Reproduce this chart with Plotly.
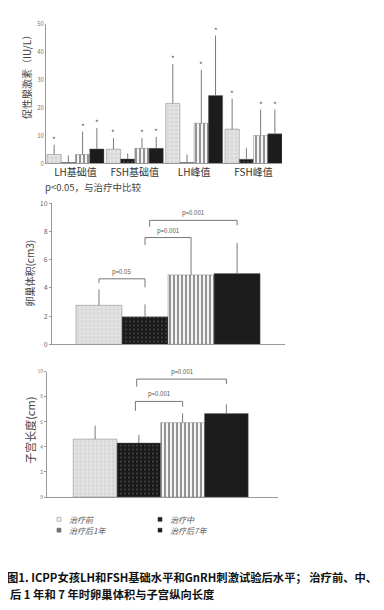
import plotly.graph_objects as go

# ---------------- data ----------------
groups = ["治疗前", "治疗中", "治疗后1年", "治疗后7年"]
hormone_categories = ["LH基础值", "FSH基础值", "LH峰值", "FSH峰值"]

# panel 1: gonadotropins (IU/L), mean and SD per treatment stage
hormone_pre = [3.2, 5.1, 21.5, 12.3]
hormone_pre_sd = [3.5, 4.0, 14.1, 10.9]
hormone_mid = [0.3, 1.6, 0.3, 1.5]
hormone_mid_sd = [2.6, 2.0, 2.9, 4.1]
hormone_y1 = [3.2, 5.4, 14.4, 10.0]
hormone_y1_sd = [8.2, 3.7, 19.1, 9.3]
hormone_y7 = [5.2, 5.4, 24.3, 10.6]
hormone_y7_sd = [7.5, 4.1, 21.5, 8.7]
star_pre = ["*", "*", "*", "*"]
star_mid = ["", "", "", ""]
star_y1 = ["*", "*", "*", "*"]
star_y7 = ["*", "*", "*", "*"]

# panel 2: ovarian volume (cm3)
ovary_mean = [2.77, 1.95, 4.93, 5.02]
ovary_sd = [1.13, 0.89, 2.37, 2.18]
ovary_brackets = [  # (left, right, top, left end, right end, label)
    (0.0, 1.0, 4.65, 4.35, 4.05, "p=0.05"),
    (1.0, 2.0, 7.58, 7.05, 7.30, "p=0.001"),
    (1.1, 3.0, 8.80, 8.35, 8.45, "p=0.001"),
]

# panel 3: uterine length (cm)
uterus_mean = [4.62, 4.31, 5.93, 6.66]
uterus_sd = [1.07, 0.65, 0.73, 0.73]
uterus_brackets = [
    (0.92, 2.0, 7.62, 6.87, 7.20, "p=0.001"),
    (0.95, 3.0, 9.40, 8.80, 9.00, "p=0.001"),
]

note_text = "p<0.05，与治疗中比较"
caption_1 = "图1. ICPP女孩LH和FSH基础水平和GnRH刺激试验后水平； 治疗前、中、"
caption_2 = "后 1 年和 7 年时卵巢体积与子宫纵向长度"

# ---------------- layout helpers ----------------
# the page body has an 8px margin, so the figure is sized to fit the window exactly
PAGE_M = 8
W, H = 384 - 2 * PAGE_M, 610 - 2 * PAGE_M
FONT = "Noto Sans CJK SC"


def px_x(p):
    return (p - PAGE_M) / W


def px_y(p):
    return 1 - (p - PAGE_M) / H


styles = [
    dict(color="#dcdcdc", pattern=dict(shape="+", fgcolor="#a0a0a0", bgcolor="#e6e6e6", size=4, solidity=0.25, fillmode="overlay")),
    dict(color="#1a1a1a", pattern=dict(shape=".", fgcolor="#b8b8b8", bgcolor="#1a1a1a", size=4, solidity=0.12, fillmode="overlay")),
    dict(color="#ffffff", pattern=dict(shape="|", fgcolor="#2a2a2a", bgcolor="#ffffff", size=4, solidity=0.55, fillmode="overlay")),
    dict(color="#1c1c1c"),
]

fig = go.Figure()

# ---------- panel 1 ----------
series = [
    (hormone_pre, hormone_pre_sd, star_pre),
    (hormone_mid, hormone_mid_sd, star_mid),
    (hormone_y1, hormone_y1_sd, star_y1),
    (hormone_y7, hormone_y7_sd, star_y7),
]
bargap1 = 0.04
nser = len(series)
bw = (1 - bargap1) / nser
for i, (vals, sds, stars) in enumerate(series):
    fig.add_trace(go.Bar(
        x=hormone_categories, y=vals, name=groups[i], xaxis="x", yaxis="y",
        marker=dict(**styles[i], line=dict(color="#666", width=0.4)),
        error_y=dict(type="data", symmetric=False, array=sds, arrayminus=[0] * len(sds),
                     width=0, thickness=1, color="#7a7a7a"),
        showlegend=False,
    ))
    off = -(1 - bargap1) / 2 + bw * (i + 0.5)
    for j, s in enumerate(stars):
        if s:
            fig.add_annotation(x=j + off, y=vals[j] + sds[j], xref="x", yref="y", text=s,
                               showarrow=False, xanchor="center", yanchor="bottom", yshift=-2,
                               font=dict(size=8, color="#555", family=FONT))


# ---------- panels 2 and 3 ----------
def single_panel(means, sds, xa, ya, brackets):
    for i, g in enumerate(groups):
        fig.add_trace(go.Bar(
            x=[g], y=[means[i]], name=g, xaxis=xa, yaxis=ya, width=1,
            marker=dict(**styles[i], line=dict(color="#666", width=0.4)),
            error_y=dict(type="data", symmetric=False, array=[sds[i]], arrayminus=[0],
                         width=0, thickness=1, color="#7a7a7a"),
            showlegend=False,
        ))
    for (a, b, top, ea, eb, lab) in brackets:
        fig.add_shape(type="path", xref=xa, yref=ya,
                      path=f"M {a},{ea} L {a},{top} L {b},{top} L {b},{eb}",
                      line=dict(color="#777", width=1))
        fig.add_annotation(x=(a + b) / 2, y=top, xref=xa, yref=ya, text=lab, showarrow=False,
                           xanchor="center", yanchor="bottom", yshift=1,
                           font=dict(size=6, color="#555", family=FONT))


single_panel(ovary_mean, ovary_sd, "x2", "y2", ovary_brackets)
single_panel(uterus_mean, uterus_sd, "x3", "y3", uterus_brackets)

axis_common = dict(showline=True, linecolor="#999", linewidth=1, showgrid=False, zeroline=False)

fig.update_layout(
    width=W, height=H, margin=dict(l=0, r=0, t=0, b=0),
    paper_bgcolor="white", plot_bgcolor="white",
    barmode="group", bargap=bargap1, bargroupgap=0,
    font=dict(family=FONT, color="#444"),
    xaxis=dict(domain=[px_x(46), px_x(282)], range=[-0.497, 3.48], anchor="y",
               tickfont=dict(size=10, color="#333"), ticks="", **axis_common),
    yaxis=dict(domain=[px_y(160), px_y(18)], range=[0, 50], anchor="x", dtick=10,
               tickfont=dict(size=6, color="#777"), ticks="", **axis_common),
    xaxis2=dict(domain=[px_x(52), px_x(285)], range=[-1.02, 4.04], anchor="y2",
                showticklabels=False, ticks="", **axis_common),
    yaxis2=dict(domain=[px_y(344), px_y(200.7)], range=[0, 10], anchor="x2", dtick=2,
                tickfont=dict(size=7, color="#666"), ticks="outside", ticklen=2, tickcolor="#999", **axis_common),
    xaxis3=dict(domain=[px_x(47), px_x(278)], range=[-1.1, 4.18], anchor="y3",
                showticklabels=False, ticks="", **axis_common),
    yaxis3=dict(domain=[px_y(499.3), px_y(371.7)], range=[0, 10], anchor="x3", dtick=2,
                tickfont=dict(size=5, color="#777"), ticks="outside", ticklen=2, tickcolor="#999", **axis_common),
)

# y-axis titles
for text, x, y, size in [("促性腺激素（IU/L）", 27, 70, 10), ("卵巢体积(cm3)", 30, 272, 10), ("子宫长度(cm)", 30, 432, 11)]:
    fig.add_annotation(x=px_x(x), y=px_y(y), xref="paper", yref="paper", text=text, textangle=-90,
                       showarrow=False, xanchor="center", yanchor="middle",
                       font=dict(size=size, color="#444", family=FONT))

# note under panel 1
fig.add_annotation(x=px_x(43), y=px_y(184), xref="paper", yref="paper", text=note_text, showarrow=False,
                   xanchor="left", yanchor="middle", font=dict(size=9.5, color="#444", family=FONT))

# legend (manual)
legend_pos = [(57, 522), (158, 522), (57, 533), (158, 533)]
legend_sym = [dict(fillcolor="#f2f2f2", line=dict(color="#aaa", width=0.8)),
              dict(fillcolor="#222", line=dict(color="#222", width=0.5)),
              dict(fillcolor="#777", line=dict(color="#555", width=0.5)),
              dict(fillcolor="#222", line=dict(color="#222", width=0.5))]
for (lx, ly), g, sym in zip(legend_pos, groups, legend_sym):
    fig.add_shape(type="rect", xref="paper", yref="paper", x0=px_x(lx), x1=px_x(lx + 4),
                  y0=px_y(ly + 2), y1=px_y(ly - 2), **sym)
    fig.add_annotation(x=px_x(lx + 10), y=px_y(ly), xref="paper", yref="paper", text=f"<i>{g}</i>",
                       showarrow=False, xanchor="left", yanchor="middle",
                       font=dict(size=8, color="#555", family=FONT))

# caption
fig.add_annotation(x=0, y=px_y(581), xref="paper", yref="paper", text=f"<b>{caption_1}</b>",
                   showarrow=False, xanchor="left", yanchor="middle", xshift=-3,
                   font=dict(size=11.3, color="#111", family=FONT))
fig.add_annotation(x=0, y=px_y(598), xref="paper", yref="paper", text=f"<b>{caption_2}</b>",
                   showarrow=False, xanchor="left", yanchor="middle", xshift=0,
                   font=dict(size=11.3, color="#111", family=FONT))

fig.write_html("out.html")
